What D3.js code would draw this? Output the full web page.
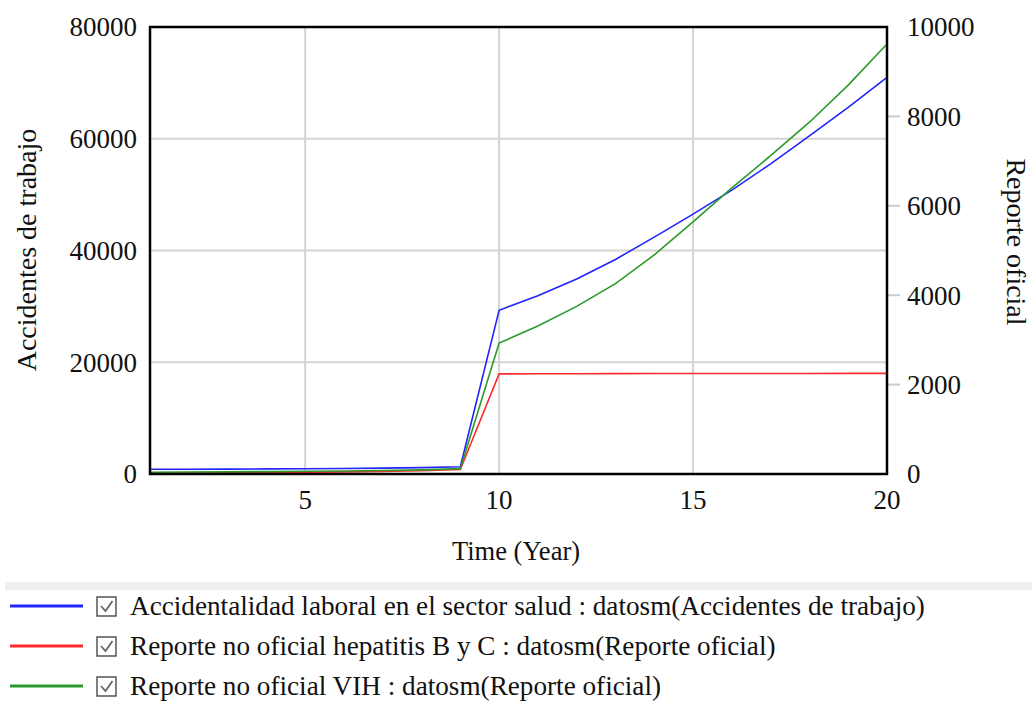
<!DOCTYPE html>
<html><head><meta charset="utf-8">
<script src="https://cdn.jsdelivr.net/npm/d3@7"></script>
<style>
html,body{margin:0;padding:0;background:#fff;}
svg text{font-family:"Liberation Serif","Times New Roman",serif;fill:#111;}
</style></head>
<body><svg id="c" width="1032" height="704"></svg>
<script>
const times = [1,2,3,4,5,6,7,8,9,10,11,12,13,14,15,16,17,18,19,20];
const accidentes = [840,860,880,910,950,990,1050,1140,1300,29300,31900,34900,38400,42400,46500,50800,55500,60500,65600,71000];
const hepatitis = [20,24,28,34,40,48,58,72,100,2240,2242,2244,2246,2247,2248,2249,2250,2250,2251,2252];
const vih = [40,44,48,54,60,68,78,92,120,2930,3310,3750,4260,4900,5640,6400,7120,7870,8700,9620];
const xTicks = [5,10,15,20];
const leftTicks = [0,20000,40000,60000,80000];
const rightTicks = [0,2000,4000,6000,8000,10000];
const legendLabels = [
  "Accidentalidad laboral en el sector salud : datosm(Accidentes de trabajo)",
  "Reporte no oficial hepatitis B y C : datosm(Reporte oficial)",
  "Reporte no oficial VIH : datosm(Reporte oficial)"
];
const colors = ["#2323ff","#ff2a2a","#2a9a2a"];

const svg = d3.select("#c");
const L=150, R=887, T=27, B=474;
const x = d3.scaleLinear().domain([1,20]).range([L,R]);
const yL = d3.scaleLinear().domain([0,80000]).range([B,T]);
const yR = d3.scaleLinear().domain([0,10000]).range([B,T]);

svg.append("g").selectAll("line").data(xTicks.filter(d=>d<20)).join("line")
  .attr("x1",d=>x(d)).attr("x2",d=>x(d)).attr("y1",T).attr("y2",B)
  .attr("stroke","#d4d4d4").attr("stroke-width",2);
svg.append("g").selectAll("line").data(leftTicks.filter(d=>d>0&&d<80000)).join("line")
  .attr("x1",L).attr("x2",R).attr("y1",d=>yL(d)).attr("y2",d=>yL(d))
  .attr("stroke","#d4d4d4").attr("stroke-width",2);
svg.append("g").selectAll("line").data(rightTicks.filter(d=>d>0&&d<10000)).join("line")
  .attr("x1",R+1).attr("x2",R+13).attr("y1",d=>yR(d)).attr("y2",d=>yR(d))
  .attr("stroke","#cccccc").attr("stroke-width",2);

const series = [
  {v:accidentes, y:yL},
  {v:hepatitis, y:yR},
  {v:vih, y:yR}
];
series.forEach((s,i)=>{
  const line = d3.line().x((d,j)=>x(times[j])).y(d=>s.y(d));
  svg.append("path").datum(s.v).attr("d",line).attr("fill","none")
    .attr("stroke",colors[i]).attr("stroke-width",1.6);
});

svg.append("rect").attr("x",L).attr("y",T).attr("width",R-L).attr("height",B-T)
  .attr("fill","none").attr("stroke","#000").attr("stroke-width",2.5);

svg.append("g").selectAll("text").data(leftTicks).join("text")
  .attr("x",137).attr("y",d=>yL(d)).attr("dy","0.35em").attr("text-anchor","end")
  .style("font-size","27px").text(d=>d);
svg.append("g").selectAll("text").data(rightTicks).join("text")
  .attr("x",907).attr("y",d=>yR(d)).attr("dy","0.35em").attr("text-anchor","start")
  .style("font-size","27px").text(d=>d);
svg.append("g").selectAll("text").data(xTicks).join("text")
  .attr("x",d=>x(d)).attr("y",509).attr("text-anchor","middle")
  .style("font-size","27px").text(d=>d);

svg.append("text").attr("x",516).attr("y",560).attr("text-anchor","middle")
  .style("font-size","26.5px").text("Time (Year)");
svg.append("text").attr("transform","translate(36,250) rotate(-90)").attr("text-anchor","middle")
  .style("font-size","28px").text("Accidentes de trabajo");
svg.append("text").attr("transform","translate(1007,242) rotate(90)").attr("text-anchor","middle")
  .style("font-size","28px").text("Reporte oficial");

svg.append("rect").attr("x",5).attr("y",582).attr("width",1027).attr("height",8).attr("fill","#eeeeee");
const lg = svg.append("g").selectAll("g").data(legendLabels).join("g")
  .attr("transform",(d,i)=>`translate(0,${606+i*40})`);
lg.append("line").attr("x1",10).attr("x2",83).attr("y1",0).attr("y2",0)
  .attr("stroke",(d,i)=>colors[i]).attr("stroke-width",3);
lg.append("rect").attr("x",97).attr("y",-9).attr("width",19).attr("height",19)
  .attr("fill","#fff").attr("stroke","#555").attr("stroke-width",1.5);
lg.append("path").attr("d","M101,0 L105.5,5 L112.5,-5").attr("fill","none")
  .attr("stroke","#666").attr("stroke-width",1.8);
lg.append("text").attr("x",130).attr("y",9).style("font-size","27.2px").text(d=>d);
</script></body></html>
